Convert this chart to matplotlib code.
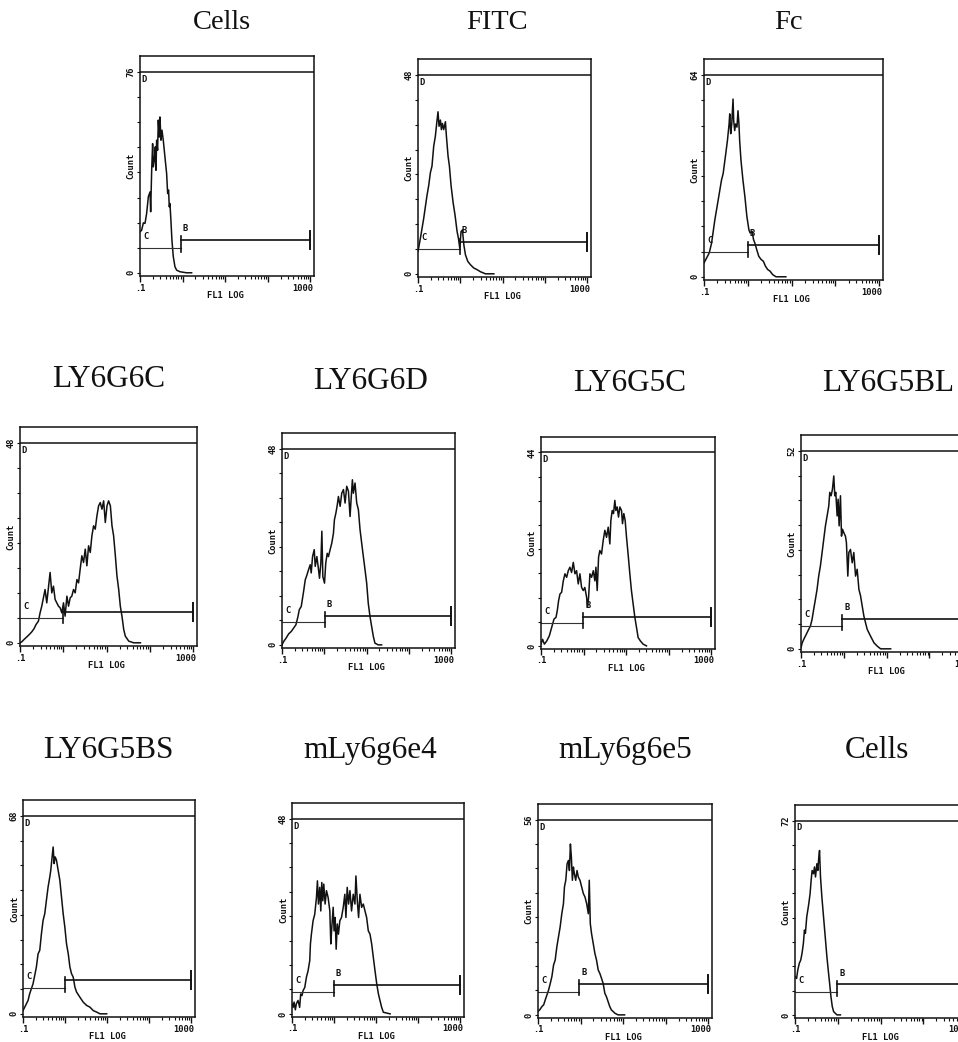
import matplotlib
matplotlib.use("Agg")
import matplotlib.pyplot as plt
import matplotlib.transforms as mtransforms
from matplotlib.ticker import FixedLocator, LogLocator, NullFormatter

# ---------------- data (FL1 intensity, event count) ----------------
titles = ["Cells", "FITC", "Fc", "LY6G6C", "LY6G6D", "LY6G5C", "LY6G5BL",
          "LY6G5BS", "mLy6g6e4", "mLy6g6e5", "Cells"]
ymax_labels = [76, 48, 64, 48, 48, 44, 52, 68, 48, 56, 72]

cells1_fl1 = [0.100, 0.109, 0.120, 0.131, 0.143, 0.157, 0.172, 0.178, 0.188, 0.198,
              0.205, 0.217, 0.229, 0.237, 0.246, 0.259, 0.269, 0.284, 0.294, 0.310,
              0.328, 0.352, 0.385, 0.422, 0.446, 0.469, 0.487, 0.505, 0.532, 0.562,
              0.605, 0.662, 0.724, 0.867, 1.24, 1.63]
cells1_count = [15.5, 16.1, 18.9, 18.7, 22.4, 28.8, 30.6, 23.1, 38.8, 48.9,
                40.1, 42.6, 47.7, 38.8, 50.2, 46.4, 57.8, 51.4, 59.0, 50.2,
                54.0, 50.2, 43.9, 37.6, 30.0, 31.3, 25.0, 26.2, 19.9, 12.4,
                6.1, 2.3, 1.0, 0.4, 0, 0]

fitc_fl1 = [0.100, 0.114, 0.136, 0.163, 0.179, 0.196, 0.214, 0.235, 0.257, 0.282,
            0.297, 0.314, 0.338, 0.357, 0.377, 0.405, 0.444, 0.469, 0.513, 0.552,
            0.604, 0.673, 0.751, 0.838, 0.901, 0.969, 1.04, 1.12, 1.21, 1.32,
            1.50, 1.73, 2.08, 2.49, 2.99, 3.93, 6.18]
fitc_count = [5.4, 8.6, 13.3, 18.9, 21.3, 24.4, 26.0, 30.8, 33.2, 37.1,
              39.1, 35.6, 37.1, 34.8, 36.3, 34.8, 36.7, 33.2, 28.4, 26.0,
              21.3, 17.3, 14.1, 10.2, 8.6, 6.2, 10.2, 10.6, 7.0, 4.6,
              3.0, 2.2, 1.4, 1.0, 0.5, 0, 0]

fc_fl1 = [0.100, 0.115, 0.132, 0.149, 0.177, 0.211, 0.251, 0.274, 0.314, 0.343,
          0.374, 0.387, 0.407, 0.430, 0.460, 0.476, 0.502, 0.528, 0.566, 0.597,
          0.628, 0.651, 0.698, 0.774, 0.859, 0.953, 1.06, 1.13, 1.26, 1.35,
          1.45, 1.60, 1.78, 2.01, 2.27, 2.52, 2.84, 3.21, 3.69, 4.39, 7.38]
fc_count = [4.4, 6.0, 7.6, 10.7, 18.1, 24.4, 30.7, 32.8, 39.1, 43.3,
            48.5, 51.7, 45.4, 48.5, 56.4, 49.6, 46.4, 48.5, 47.5, 52.7,
            48.5, 43.3, 37.0, 30.7, 25.4, 19.1, 14.9, 13.9, 14.4, 11.8,
            10.7, 8.6, 6.5, 5.5, 4.9, 3.4, 2.3, 1.8, 0.7, 0, 0]

ly6g6c_fl1 = [0.100, 0.109, 0.124, 0.143, 0.164, 0.186, 0.211, 0.235, 0.266, 0.291,
              0.318, 0.347, 0.379, 0.415, 0.453, 0.495, 0.542, 0.592, 0.647, 0.707,
              0.773, 0.845, 0.923, 1.01, 1.10, 1.21, 1.32, 1.44, 1.57, 1.72,
              1.88, 2.06, 2.25, 2.45, 2.68, 2.93, 3.21, 3.50, 3.83, 4.19,
              4.57, 5.00, 5.46, 5.97, 6.53, 7.13, 7.80, 8.53, 9.31, 10.2,
              11.1, 12.2, 13.3, 14.5, 15.9, 17.3, 19.0, 20.7, 22.6, 24.8,
              27.0, 32.4, 42.2, 60.3]
ly6g6c_count = [0, 0.2, 0.8, 1.4, 2.0, 2.6, 3.4, 4.4, 5.2, 7.2,
                8.8, 10.8, 12.8, 9.6, 13.2, 16.9, 12.0, 13.6, 10.4, 9.6,
                8.8, 8.4, 7.2, 9.6, 6.4, 11.2, 8.8, 10.8, 11.2, 12.8,
                12.0, 15.2, 14.4, 17.7, 20.9, 19.3, 22.5, 18.5, 23.3, 21.7,
                25.7, 28.1, 27.3, 30.5, 32.9, 33.7, 32.1, 34.1, 28.9, 32.9,
                34.1, 32.9, 28.1, 25.7, 20.9, 16.1, 12.8, 8.8, 6.4, 3.2,
                1.6, 0.4, 0, 0]

ly6g6d_fl1 = [0.100, 0.109, 0.124, 0.144, 0.166, 0.188, 0.213, 0.238, 0.256, 0.285,
              0.324, 0.354, 0.388, 0.424, 0.464, 0.490, 0.527, 0.577, 0.609, 0.666,
              0.729, 0.769, 0.827, 0.874, 0.922, 1.01, 1.08, 1.17, 1.25, 1.37,
              1.50, 1.64, 1.73, 1.87, 2.00, 2.15, 2.36, 2.58, 2.83, 3.09,
              3.38, 3.71, 4.05, 4.28, 4.60, 4.85, 5.31, 5.82, 6.37, 6.97,
              7.62, 8.35, 9.14, 10.0, 10.9, 12.0, 13.1, 14.4, 15.7, 18.8, 22.5]
ly6g6d_count = [0, 0.8, 1.6, 2.7, 3.3, 4.1, 4.9, 6.9, 8.6, 9.4,
                13.1, 15.9, 17.1, 18.4, 19.6, 17.6, 21.6, 23.3, 19.2, 21.6,
                18.4, 16.3, 20.0, 27.8, 16.7, 15.1, 20.0, 22.4, 21.6, 23.3,
                24.9, 27.3, 30.6, 32.2, 33.9, 36.3, 33.9, 37.1, 38.0, 34.7,
                38.8, 37.6, 31.4, 35.5, 40.4, 37.1, 39.6, 34.7, 33.1, 28.2,
                24.9, 21.6, 18.4, 15.1, 10.2, 6.9, 4.5, 2.0, 0.4, 0, 0]

ly6g5c_fl1 = [0.100, 0.109, 0.120, 0.136, 0.157, 0.178, 0.202, 0.225, 0.241, 0.259,
              0.279, 0.305, 0.334, 0.365, 0.400, 0.437, 0.478, 0.523, 0.573, 0.627,
              0.685, 0.750, 0.820, 0.898, 0.982, 1.07, 1.18, 1.24, 1.31, 1.41,
              1.54, 1.69, 1.84, 1.95, 2.09, 2.25, 2.41, 2.64, 2.89, 3.16,
              3.46, 3.79, 4.14, 4.37, 4.70, 5.05, 5.42, 5.73, 6.15, 6.61,
              7.11, 7.78, 8.20, 8.81, 9.48, 10.2, 11.1, 12.2, 13.3, 14.6,
              16.0, 17.5, 19.1, 21.7, 25.0, 30.0]
ly6g5c_count = [0.4, 1.5, 0.4, 1.1, 2.3, 4.2, 6.1, 6.5, 8.0, 10.3,
                11.8, 12.2, 14.8, 16.4, 15.6, 17.1, 17.9, 16.7, 19.0, 16.4,
                17.1, 14.1, 16.4, 13.3, 12.6, 13.3, 11.0, 8.8, 11.0, 16.4,
                15.6, 17.1, 14.8, 17.9, 12.6, 20.2, 21.7, 20.9, 24.0, 26.3,
                24.7, 27.0, 23.2, 28.5, 30.8, 30.1, 33.1, 30.8, 31.6, 29.3,
                31.6, 30.8, 27.8, 30.1, 28.5, 24.7, 20.9, 16.4, 12.6, 9.5,
                6.5, 4.2, 1.9, 1.1, 0.4, 0]

ly6g5bl_fl1 = [0.100, 0.107, 0.116, 0.126, 0.138, 0.151, 0.166, 0.181, 0.198, 0.217,
               0.237, 0.259, 0.284, 0.311, 0.340, 0.372, 0.407, 0.445, 0.470, 0.505,
               0.542, 0.583, 0.615, 0.649, 0.698, 0.736, 0.777, 0.835, 0.882, 0.931,
               1.00, 1.09, 1.15, 1.24, 1.31, 1.43, 1.57, 1.71, 1.88, 2.05,
               2.25, 2.46, 2.69, 2.94, 3.22, 3.52, 4.22, 5.05, 6.04, 7.23, 12.4]
ly6g5bl_count = [0.3, 1.6, 2.5, 3.3, 4.2, 5.1, 6.0, 7.7, 10.4, 13.0,
                 15.6, 19.1, 21.8, 25.3, 28.8, 32.3, 34.9, 37.5, 41.1, 40.2,
                 41.9, 45.4, 40.2, 41.1, 34.9, 39.3, 32.3, 40.2, 29.6, 31.4,
                 30.5, 29.6, 27.9, 19.1, 25.3, 26.1, 22.6, 25.3, 19.1, 20.9,
                 15.6, 13.9, 11.2, 8.6, 6.8, 5.1, 3.3, 1.6, 0.7, 0, 0]

ly6g5bs_fl1 = [0.100, 0.110, 0.120, 0.132, 0.144, 0.158, 0.173, 0.190, 0.208, 0.228,
               0.250, 0.274, 0.300, 0.329, 0.360, 0.395, 0.433, 0.457, 0.483, 0.520,
               0.549, 0.580, 0.624, 0.684, 0.750, 0.822, 0.900, 0.986, 1.08, 1.19,
               1.30, 1.42, 1.56, 1.71, 1.87, 2.25, 2.70, 3.24, 3.89, 4.68,
               5.62, 6.75, 9.73]
ly6g5bs_count = [1.1, 2.3, 3.4, 4.6, 6.9, 8.6, 10.3, 13.2, 16.1, 20.6,
                 21.8, 27.5, 32.1, 34.4, 39.0, 43.6, 47.0, 49.3, 52.8, 57.3,
                 51.6, 53.9, 52.8, 49.3, 45.9, 40.1, 34.4, 29.8, 24.1, 20.6,
                 16.1, 13.8, 12.6, 9.2, 7.5, 5.7, 4.0, 2.9, 2.3, 1.1,
                 0.6, 0, 0]

e4_fl1 = [0.100, 0.106, 0.112, 0.120, 0.127, 0.139, 0.152, 0.161, 0.173, 0.183,
          0.201, 0.220, 0.241, 0.264, 0.274, 0.289, 0.317, 0.347, 0.381, 0.402,
          0.425, 0.457, 0.483, 0.510, 0.539, 0.569, 0.612, 0.659, 0.722, 0.792,
          0.836, 0.883, 0.951, 1.00, 1.06, 1.12, 1.19, 1.27, 1.37, 1.50,
          1.65, 1.80, 1.91, 2.05, 2.21, 2.38, 2.60, 2.85, 3.13, 3.30,
          3.56, 3.82, 4.11, 4.51, 4.94, 5.42, 5.93, 6.50, 7.13, 7.81,
          8.55, 9.38, 10.3, 11.3, 12.3, 13.5, 14.8, 17.8, 21.4]
e4_count = [2.5, 1.6, 2.9, 1.0, 2.5, 3.3, 1.6, 4.9, 4.5, 5.7,
            6.5, 9.0, 10.6, 13.1, 17.2, 19.6, 22.9, 24.5, 28.6, 32.7,
            27.0, 31.1, 25.3, 32.3, 27.8, 31.9, 27.0, 30.3, 28.6, 25.3,
            17.2, 21.3, 26.2, 20.4, 23.7, 15.9, 22.1, 19.6, 22.9, 23.7,
            26.2, 29.4, 23.7, 31.1, 27.0, 30.3, 25.3, 29.4, 27.0, 33.9,
            27.8, 23.7, 29.4, 26.2, 27.0, 25.3, 23.7, 20.4, 19.6, 17.2,
            13.9, 10.6, 7.4, 4.9, 3.3, 1.6, 0.4, 0.2, 0]

e5_fl1 = [0.100, 0.109, 0.124, 0.136, 0.148, 0.162, 0.177, 0.194, 0.212, 0.232,
          0.253, 0.277, 0.303, 0.331, 0.362, 0.396, 0.418, 0.449, 0.482, 0.518,
          0.547, 0.577, 0.608, 0.642, 0.678, 0.715, 0.768, 0.825, 0.887, 0.969,
          1.06, 1.16, 1.27, 1.39, 1.52, 1.60, 1.69, 1.81, 1.98, 2.17,
          2.37, 2.59, 2.83, 3.10, 3.39, 3.71, 4.05, 4.43, 4.84, 5.30,
          5.79, 6.34, 7.58, 10.8]
e5_count = [1.0, 1.4, 2.4, 2.9, 4.3, 5.7, 7.1, 9.0, 11.0, 14.3,
            15.7, 19.5, 22.4, 25.2, 29.0, 31.9, 36.7, 38.6, 43.3, 44.3,
            41.4, 49.0, 45.2, 38.6, 42.4, 40.5, 38.6, 41.4, 39.5, 38.6,
            36.7, 34.8, 33.8, 31.9, 29.0, 38.6, 26.2, 23.3, 20.5, 17.6,
            15.7, 12.9, 11.9, 10.5, 9.0, 6.2, 5.2, 3.8, 2.4, 1.4,
            1.0, 0.5, 0, 0]

cells2_fl1 = [0.100, 0.109, 0.116, 0.126, 0.136, 0.146, 0.157, 0.166, 0.175, 0.188,
              0.199, 0.210, 0.225, 0.238, 0.251, 0.270, 0.285, 0.301, 0.324, 0.341,
              0.360, 0.374, 0.394, 0.424, 0.464, 0.508, 0.556, 0.608, 0.643, 0.690,
              0.742, 0.798, 0.873, 0.956, 1.15]
cells2_count = [14.2, 13.5, 16.6, 19.1, 20.3, 22.8, 26.5, 31.4, 30.2, 36.3,
                38.8, 41.2, 44.9, 49.8, 53.5, 52.3, 54.8, 51.1, 56.0, 53.5,
                58.5, 60.9, 51.1, 43.7, 36.3, 28.9, 21.5, 15.4, 11.7, 6.8,
                3.1, 1.2, 0.6, 0, 0]

# gate C level, C/B boundary (FL1), gate B level
gate_c_level = [9.5, 6.0, 7.8, 6.0, 5.6, 5.2, 6.0, 8.9, 5.3, 6.7, 8.4]
gate_boundary = [0.91, 0.97, 1.0, 0.97, 1.01, 0.98, 0.93, 1.01, 0.99, 0.94, 0.96]
gate_b_level = [12.4, 7.6, 10.0, 7.5, 7.1, 6.6, 7.9, 11.5, 7.1, 8.9, 11.3]
gate_b_end = 1000

series_fl1 = [cells1_fl1, fitc_fl1, fc_fl1, ly6g6c_fl1, ly6g6d_fl1, ly6g5c_fl1,
              ly6g5bl_fl1, ly6g5bs_fl1, e4_fl1, e5_fl1, cells2_fl1]
series_count = [cells1_count, fitc_count, fc_count, ly6g6c_count, ly6g6d_count,
                ly6g5c_count, ly6g5bl_count, ly6g5bs_count, e4_count, e5_count,
                cells2_count]

# ---------------- layout (pixel boxes in the 958x1042 canvas) ----------------
W, H = 958, 1042
boxes = [(140, 314, 56, 276), (418, 591, 59, 277), (704, 883, 59, 280),
         (20, 197, 427, 646), (282, 455, 433, 648), (541, 715, 437, 649),
         (801, 976, 435, 652),
         (23, 195, 800, 1017), (292, 464, 803, 1017), (538, 712, 804, 1018),
         (795, 970, 805, 1018)]
title_pos = [(222, 29), (497, 29), (788, 29),
             (109, 387), (371, 389), (630, 391), (888, 391),
             (108, 758), (370, 758), (625, 758), (877, 758)]
title_size = [20.5, 20.5, 20.5] + [22.5] * 8
show_b_label = [True, True, True, False, True, True, True, False, True, True, True]

fig = plt.figure(figsize=(W / 100, H / 100), dpi=100)
ink = "#111111"
mono = dict(family="DejaVu Sans Mono", weight="bold", size=6.3, color=ink)

for i in range(11):
    L, R, T, B = boxes[i]
    ax = fig.add_axes([L / W, 1 - B / H, (R - L) / W, (B - T) / H])
    ymax = ymax_labels[i]
    ax.set_xscale("log")
    ax.set_xlim(0.1, 1220)
    ax.set_ylim(-0.016 * ymax, 1.08 * ymax)
    for s in ax.spines.values():
        s.set_linewidth(1.1)
        s.set_color(ink)

    # histogram
    ax.plot(series_fl1[i], series_count[i], color=ink, lw=1.1)

    # D gate (full range)
    ax.axhline(ymax, color=ink, lw=1.1)
    ax.text(0.108, ymax * 0.985, "D", ha="left", va="top", **mono)

    # C gate
    cb = gate_boundary[i]
    ax.plot([0.1, cb], [gate_c_level[i]] * 2, color="#333333", lw=0.8)
    # B gate with end caps
    bl = gate_b_level[i]
    cap = 0.045 * ymax
    ax.plot([cb, gate_b_end], [bl, bl], color=ink, lw=1.2)
    ax.plot([cb, cb], [bl - cap * 1.3, bl + cap * 0.4], color=ink, lw=1.2)
    ax.plot([gate_b_end, gate_b_end], [bl - cap, bl + cap], color=ink, lw=1.4)
    ax.text(0.118, gate_c_level[i] + 0.035 * ymax, "C", ha="left", va="bottom", **mono)
    if show_b_label[i]:
        ax.text(cb * 1.12, bl + 0.035 * ymax, "B", ha="left", va="bottom", **mono)

    # ticks
    ax.xaxis.set_major_locator(FixedLocator([0.1, 1, 10, 100, 1000]))
    ax.xaxis.set_minor_locator(LogLocator(base=10, subs=[2, 3, 4, 5, 6, 7, 8, 9]))
    ax.xaxis.set_major_formatter(NullFormatter())
    ax.xaxis.set_minor_formatter(NullFormatter())
    ax.tick_params(axis="x", which="major", length=4, width=1.0, direction="out", color=ink)
    ax.tick_params(axis="x", which="minor", length=2.5, width=0.8, direction="out", color=ink)
    ax.yaxis.set_major_locator(FixedLocator([ymax * k / 8 for k in range(9)]))
    ax.yaxis.set_major_formatter(NullFormatter())
    ax.tick_params(axis="y", which="major", length=2, width=0.8, direction="out", color=ink)

    trans = mtransforms.blended_transform_factory(ax.transAxes, ax.transData)
    ax.text(-0.05, ymax, str(ymax), transform=trans, rotation=90,
            ha="center", va="center", **mono)
    ax.text(-0.05, 0, "0", transform=trans, rotation=90,
            ha="center", va="center", **mono)
    ax.text(-0.05, 0.5, "Count", transform=ax.transAxes, rotation=90,
            ha="center", va="center", **mono)

    transx = mtransforms.blended_transform_factory(ax.transData, ax.transAxes)
    ax.text(0.1, -0.035, ".1", transform=transx, ha="center", va="top", **mono)
    ax.text(1150, -0.035, "1000", transform=transx, ha="right", va="top", **mono)
    ax.text(0.49, -0.07, "FL1 LOG", transform=ax.transAxes, ha="center", va="top", **mono)

    tx, ty = title_pos[i]
    fig.text(tx / W, 1 - ty / H, titles[i], ha="center", va="baseline",
             family=["Liberation Serif", "DejaVu Serif"], size=title_size[i], color=ink)

fig.savefig("out.png", dpi=100)
